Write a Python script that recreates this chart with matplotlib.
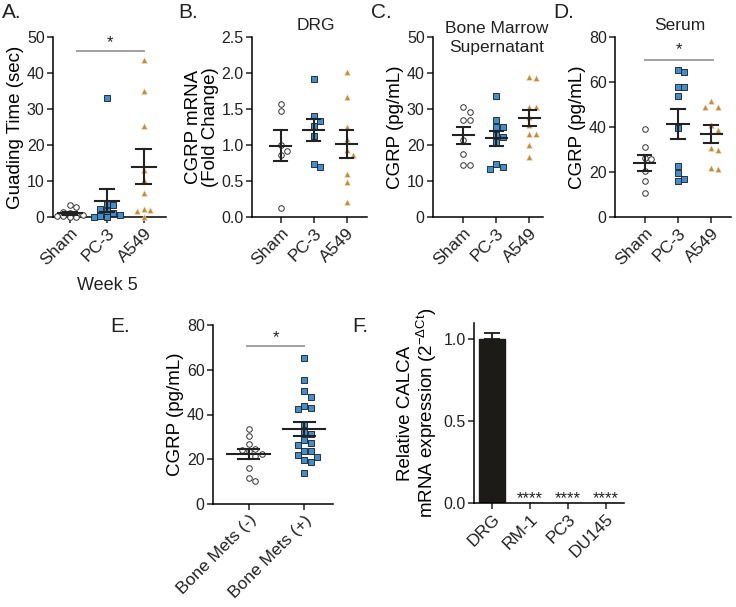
import matplotlib
matplotlib.use('Agg')
import matplotlib.pyplot as plt
import numpy as np

plt.rcParams['font.family'] = ['Liberation Sans', 'DejaVu Sans']
plt.rcParams['mathtext.fontset'] = 'custom'
plt.rcParams['mathtext.rm'] = 'Liberation Sans'
plt.rcParams['axes.linewidth'] = 1.1
plt.rcParams['xtick.major.width'] = 1.1
plt.rcParams['ytick.major.width'] = 1.1
plt.rcParams['xtick.major.size'] = 4
plt.rcParams['ytick.major.size'] = 4
plt.rcParams['text.color'] = '#222222'

groups = ['Sham', 'PC-3', 'A549']

# A. guarding time, week 5
guard_sham = [3.2, 2.8, 1.5, 1.0, 0.8, 0.5, 0.3, 0.2, 0.1, 0.0]
guard_pc3 = [33.0, 3.7, 3.2, 2.3, 1.7, 1.0, 0.5, 0.2, 0.1, 0.0]
guard_a549 = [43.7, 35.0, 25.2, 13.1, 10.4, 6.7, 2.3, 2.0, 1.8, 0.0]

# B. DRG CGRP mRNA
drg_sham = [1.57, 1.47, 1.00, 0.92, 0.86, 0.12]
drg_pc3 = [1.91, 1.40, 1.33, 1.26, 1.13, 0.73, 0.69]
drg_a549 = [2.02, 1.67, 1.25, 1.09, 0.93, 0.86, 0.60, 0.49, 0.21]

# C. bone marrow supernatant CGRP
bm_sham = [30.6, 29.2, 26.9, 26.9, 21.3, 17.4, 14.5, 14.5]
bm_pc3 = [33.6, 26.9, 25.0, 25.0, 22.9, 22.2, 20.8, 14.8, 13.9, 13.4]
bm_a549 = [38.6, 38.8, 30.6, 30.6, 27.8, 25.5, 23.1, 23.1, 19.9, 16.7]

# D. serum CGRP
serum_sham = [39.3, 31.1, 26.2, 25.6, 20.3, 15.9, 10.7]
serum_pc3 = [65.5, 64.4, 57.9, 57.9, 53.6, 39.6, 22.7, 19.7, 17.0, 15.9]
serum_a549 = [51.4, 48.7, 48.7, 40.7, 38.5, 30.7, 29.6, 21.9, 21.5]

# E. patient serum CGRP by bone mets
mets_labels = ['Bone Mets (-)', 'Bone Mets (+)']
mets_neg = [33.6, 30.5, 26.8, 24.5, 24.0, 23.5, 22.5, 21.5, 16.0, 11.5, 10.2]
mets_pos = [65.1, 55.6, 50.7, 47.9, 43.6, 42.8, 42.4, 35.8, 32.0, 31.2, 28.7,
            27.2, 26.5, 23.5, 23.5, 22.0, 21.0, 19.8, 18.6, 13.8]

# F. CALCA expression
calca_labels = ['DRG', 'RM-1', 'PC3', 'DU145']
calca_vals = [1.0, 0.0, 0.0, 0.0]
calca_err = [0.037, 0, 0, 0]
calca_sig = ['', '****', '****', '****']

W, H = 736, 607
fig = plt.figure(figsize=(W / 100, H / 100), dpi=100)


def add_ax(l, r, t, b):
    return fig.add_axes([l / W, 1 - b / H, (r - l) / W, (b - t) / H])


def style(ax):
    for s in ['top', 'right']:
        ax.spines[s].set_visible(False)
    ax.tick_params(axis='y', labelsize=11.5, pad=2, colors='#222222')
    ax.tick_params(axis='x', labelsize=12.5, pad=2, colors='#222222')


def swarm(ax, vals, xc, diam, max_steps=2):
    # beeswarm-ish: sideways shifts, limited width, overlap allowed when crowded
    tr = ax.transData
    placed = []
    xs = np.zeros(len(vals))
    px_per_x = tr.transform((1, 0))[0] - tr.transform((0, 0))[0]
    order = np.argsort(vals)[::-1]
    for i in order:
        yp = tr.transform((xc, vals[i]))[1]
        best, best_d = None, -1
        for k in range(0, 2 * max_steps + 1):
            off = ((k + 1) // 2) * (1 if k % 2 else -1) * diam
            xp = xc * px_per_x + off
            d = min([np.hypot(xp - a, yp - b) for a, b in placed] + [1e9])
            if d >= diam:
                best = xp
                break
            if d > best_d + 0.5:
                best, best_d = xp, d
        placed.append((best, yp))
        xs[i] = best / px_per_x
    return xs


def dotplot(ax, data, kinds, mean_hw=0.32, cap_hw=0.2):
    for i, (vals, kind) in enumerate(zip(data, kinds)):
        vals = np.array(vals)
        if kind == 'o':
            kw = dict(marker='o', s=16, facecolors='white', edgecolors='#333333', linewidths=0.7)
        elif kind == 's':
            kw = dict(marker='s', s=17, facecolors='#3d8fd1', edgecolors='#1a1a1a', linewidths=0.6)
        else:
            kw = dict(marker='^', s=19, facecolors='#d18a22', edgecolors='#e8e8e8', linewidths=0.4)
        xs = swarm(ax, vals, i, 6.5)
        ax.scatter(xs, vals, zorder=3, clip_on=False, **kw)
        m = vals.mean()
        sem = vals.std(ddof=1) / np.sqrt(len(vals))
        ax.plot([i - mean_hw, i + mean_hw], [m, m], color='#222222', lw=1.5, zorder=4)
        ax.plot([i, i], [m - sem, m + sem], color='#222222', lw=1.5, zorder=4)
        for y in (m - sem, m + sem):
            ax.plot([i - cap_hw, i + cap_hw], [y, y], color='#222222', lw=1.5, zorder=4)


def sigbar(ax, x0, x1, y, star_y):
    ax.plot([x0, x1], [y, y], color='#a0a0a0', lw=1.4, clip_on=False)
    ax.text((x0 + x1) / 2, star_y, '*', ha='center', va='center', fontsize=12)


def xlabels(ax, labels):
    ax.set_xticks(range(len(labels)))
    ax.set_xticklabels(labels, rotation=45, ha='right', rotation_mode='anchor')


# Panel A
axA = add_ax(53, 166, 37, 217)
axA.set_xlim(-0.46, 2.6)
axA.set_ylim(0, 50)
style(axA)
dotplot(axA, [guard_sham, guard_pc3, guard_a549], ['o', 's', '^'])
axA.set_yticks(range(0, 51, 10))
xlabels(axA, groups)
axA.set_ylabel('Guading Time (sec)', fontsize=13.5, labelpad=2)
sigbar(axA, 0.19, 2.0, 46, 48.5)
fig.text(107 / W, 1 - 285 / H, 'Week 5', ha='center', va='center', fontsize=13)

# Panel B
axB = add_ax(252, 367, 37, 217)
axB.set_xlim(-0.88, 2.62)
axB.set_ylim(0, 2.5)
style(axB)
dotplot(axB, [drg_sham, drg_pc3, drg_a549], ['o', 's', '^'])
axB.set_yticks(np.arange(0, 2.51, 0.5))
axB.set_yticklabels(['%.1f' % v for v in np.arange(0, 2.51, 0.5)])
xlabels(axB, groups)
axB.set_ylabel('CGRP mRNA\n(Fold Change)', fontsize=13.5, labelpad=2, linespacing=1.0)
fig.text(316 / W, 1 - 25 / H, 'DRG', ha='center', va='center', fontsize=12.5)

# Panel C
axC = add_ax(433, 543, 37, 217)
axC.set_xlim(-0.92, 2.41)
axC.set_ylim(0, 50)
style(axC)
dotplot(axC, [bm_sham, bm_pc3, bm_a549], ['o', 's', '^'])
axC.set_yticks(range(0, 51, 10))
xlabels(axC, groups)
axC.set_ylabel('CGRP (pg/mL)', fontsize=13.5, labelpad=2)
fig.text(497 / W, 1 - 38 / H, 'Bone Marrow\nSupernatant', ha='center', va='center',
         fontsize=12.5, linespacing=1.35)

# Panel D
axD = add_ax(615, 731, 37, 217)
axD.set_xlim(-0.9, 2.6)
axD.set_ylim(0, 80)
style(axD)
dotplot(axD, [serum_sham, serum_pc3, serum_a549], ['o', 's', '^'])
axD.set_yticks(range(0, 81, 20))
xlabels(axD, groups)
axD.set_ylabel('CGRP (pg/mL)', fontsize=13.5, labelpad=2)
sigbar(axD, 0.0, 2.05, 70, 74.5)
fig.text(680 / W, 1 - 25 / H, 'Serum', ha='center', va='center', fontsize=12.5)

# Panel E
axE = add_ax(213, 333, 325, 504)
axE.set_xlim(-0.64, 1.52)
axE.set_ylim(0, 80)
style(axE)
dotplot(axE, [mets_neg, mets_pos], ['o', 's'], mean_hw=0.38, cap_hw=0.19)
axE.set_yticks(range(0, 81, 20))
xlabels(axE, mets_labels)
axE.set_ylabel('CGRP (pg/mL)', fontsize=13.5, labelpad=2)
sigbar(axE, -0.02, 1.0, 70.5, 74.5)

# Panel F
axF = add_ax(474, 624, 323, 503)
axF.set_xlim(-0.48, 3.48)
axF.set_ylim(0, 1.1)
style(axF)
xF = np.arange(len(calca_labels))
axF.bar(xF, calca_vals, width=0.69, color='#1d1b17', edgecolor='#1d1b17')
axF.errorbar(xF[:1], calca_vals[:1], yerr=[[0], calca_err[:1]], fmt='none',
             ecolor='#1d1b17', elinewidth=1.3, capsize=6, capthick=1.3)
for x, s in zip(xF, calca_sig):
    axF.text(x, 0.0, s, ha='center', va='baseline', fontsize=12)
axF.set_yticks([0, 0.5, 1.0])
axF.set_yticklabels(['0.0', '0.5', '1.0'])
xlabels(axF, calca_labels)
axF.set_ylabel('Relative CALCA\nmRNA expression (2$^{\\mathrm{-\\Delta Ct}}$)',
               fontsize=13.5, labelpad=3, linespacing=1.0)

# panel letters
for lab, x, y in [('A.', 2, 12), ('B.', 178, 12), ('C.', 371, 12), ('D.', 553, 12),
                  ('E.', 110, 327), ('F.', 352, 327)]:
    fig.text(x / W, 1 - y / H, lab, ha='left', va='center', fontsize=15)

fig.savefig('out.png', dpi=100)
